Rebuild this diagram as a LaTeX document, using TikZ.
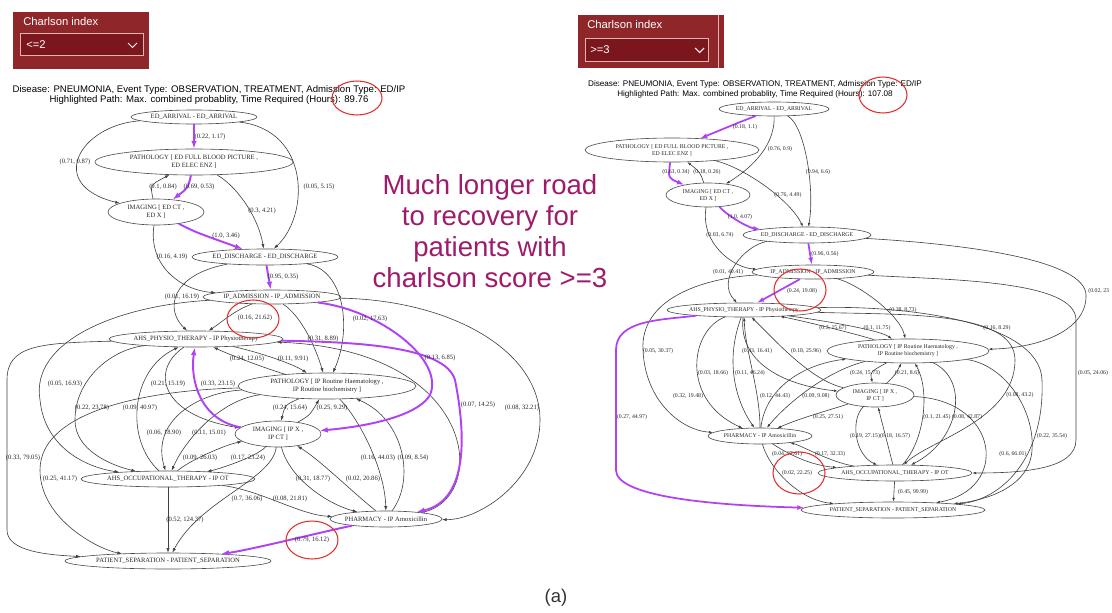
\documentclass[tikz,border=0pt]{standalone}
\usepackage{fontspec}
\setmainfont{Liberation Serif}
\setsansfont{Liberation Sans}
\usetikzlibrary{shapes.geometric,arrows.meta}
\definecolor{boxred}{RGB}{142,38,42}
\definecolor{dropred}{RGB}{122,22,28}
\definecolor{dropline}{RGB}{225,180,180}
\definecolor{hlpurple}{RGB}{176,66,245}
\definecolor{ringred}{RGB}{225,45,45}
\definecolor{msgcol}{RGB}{158,27,108}

\begin{document}
\begin{tikzpicture}[x=0.02cm,y=-0.02cm,>={Latex[length=2.6pt,width=1.8pt]}]
    \tikzstyle{ev}=[ellipse,draw=black!70,line width=0.35pt,inner sep=0pt]
    \tikzstyle{ltxt}=[font=\fontsize{3.75pt}{4.4pt}\selectfont,align=center,inner sep=0pt,text=black!85]
    \tikzstyle{rtxt}=[font=\fontsize{3.3pt}{3.9pt}\selectfont,align=center,inner sep=0pt,text=black!85]
    \tikzstyle{conn}=[->,draw=black!75,line width=0.35pt]
    \tikzstyle{connr}=[conn,>={Latex[length=2.2pt,width=1.5pt]}]
    \tikzstyle{hl}=[->,draw=hlpurple,line width=1.1pt,>={Latex[length=4.5pt,width=3.2pt]}]
    \tikzstyle{hlr}=[hl,line width=1pt,>={Latex[length=4pt,width=2.8pt]}]
    \tikzstyle{redring}=[draw=ringred,line width=0.6pt]
    \tikzstyle{ctxt}=[font=\sffamily\fontsize{6.4pt}{7pt}\selectfont,text=white,inner sep=0pt]
    \tikzstyle{head}=[font=\sffamily\fontsize{5.46pt}{5.7pt}\selectfont,align=center,inner sep=0pt]
    \tikzstyle{headr}=[font=\sffamily\fontsize{4.64pt}{5.7pt}\selectfont,align=center,inner sep=0pt]

    \useasboundingbox (0,0) rectangle (1112,612);

    \fill[boxred] (13,12) rectangle (149,69);
    \draw[dropline,fill=dropred,line width=0.5pt] (20,33) rectangle (143,55);
    \node (lBoxTitle)[ctxt,anchor=west] at (23,21) {Charlson index};
    \node (lBoxVal)[ctxt,anchor=west] at (26,45) {<=2};
    \draw[white,line width=0.6pt] (128,43) -- (132.5,47.5) -- (137,43);

    \fill[boxred] (578,15) rectangle (724,68);
    \draw[dropline,line width=0.3pt] (718,15) -- (718,68);
    \draw[dropline,fill=dropred,line width=0.5pt] (585,38) rectangle (708,61);
    \node (rBoxTitle)[ctxt,anchor=west] at (587,24) {Charlson index};
    \node (rBoxVal)[ctxt,anchor=west] at (590,50) {>=3};
    \draw[white,line width=0.6pt] (695,48) -- (699.5,52.5) -- (704,48);

    \node (lHead)[head] at (209,95) {Disease: PNEUMONIA, Event Type: OBSERVATION, TREATMENT, Admission Type: ED/IP\\Highlighted Path: Max. combined probablity, Time Required (Hours): 89.76};
    \node (rHead)[headr] at (755,89) {Disease: PNEUMONIA, Event Type: OBSERVATION, TREATMENT, Admission Type: ED/IP\\Highlighted Path: Max. combined probablity, Time Required (Hours): 107.08};

    \node (msg)[font=\sffamily\fontsize{15.7pt}{17.6pt}\selectfont,text=msgcol,align=center] at (490,231) {Much longer road\\to recovery for\\patients with\\charlson score >=3};
    \node (cap)[font=\sffamily\fontsize{10.5pt}{12pt}\selectfont,text=black!80] at (556,598) {(a)};

    % left graph, charlson <=2
    \node (lArr)[ev,minimum width=2.52cm,minimum height=0.28cm,label={[ltxt]center:{ED\_ARRIVAL - ED\_ARRIVAL}}] at (194,117) {};
    \node (lPathEd)[ev,minimum width=3.96cm,minimum height=0.52cm,label={[ltxt]center:{PATHOLOGY [ ED FULL BLOOD PICTURE ,\\ ED ELEC ENZ ]}}] at (194,162) {};
    \node (lImgEd)[ev,minimum width=1.92cm,minimum height=0.52cm,label={[ltxt]center:{IMAGING [ ED CT ,\\ ED X ]}}] at (156,212) {};
    \node (lDis)[ev,minimum width=2.92cm,minimum height=0.32cm,label={[ltxt]center:{ED\_DISCHARGE - ED\_DISCHARGE}}] at (265,257) {};
    \node (lAdm)[ev,minimum width=2.76cm,minimum height=0.28cm,label={[ltxt]center:{IP\_ADMISSION - IP\_ADMISSION}}] at (272,297) {};
    \node (lPhy)[ev,minimum width=3.48cm,minimum height=0.32cm,label={[ltxt]center:{AHS\_PHYSIO\_THERAPY - IP Physiotherapy}}] at (196,339) {};
    \node (lPathIp)[ev,minimum width=3.56cm,minimum height=0.52cm,label={[ltxt]center:{PATHOLOGY [ IP Routine Haematology ,\\ IP Routine biochemistry ]}}] at (327,386) {};
    \node (lImgIp)[ev,minimum width=1.72cm,minimum height=0.52cm,label={[ltxt]center:{IMAGING [ IP X ,\\ IP CT ]}}] at (278,434) {};
    \node (lOt)[ev,minimum width=3.48cm,minimum height=0.32cm,label={[ltxt]center:{AHS\_OCCUPATIONAL\_THERAPY - IP OT}}] at (168,479) {};
    \node (lPha)[ev,minimum width=2.24cm,minimum height=0.32cm,label={[ltxt]center:{PHARMACY - IP Amoxicillin}}] at (386,519) {};
    \node (lSep)[ev,minimum width=4.12cm,minimum height=0.32cm,label={[ltxt]center:{PATIENT\_SEPARATION - PATIENT\_SEPARATION}}] at (168,561) {};

    \draw[conn] (lArr) .. controls (80,125) and (45,185) .. (lImgEd);
    \draw[conn] (lArr) .. controls (310,130) and (310,215) .. (lDis);
    \draw[conn] (lImgEd) .. controls (150,185) .. (lPathEd);
    \draw[conn] (lPathEd) .. controls (235,185) and (258,215) .. (lDis);
    \draw[conn] (lImgEd) .. controls (148,265) and (180,290) .. (lAdm);
    \draw[conn] (lDis) .. controls (170,275) and (165,310) .. (lPhy);
    \draw[conn] (lDis) .. controls (345,270) and (352,330) .. (lPathIp);
    \draw[conn] (lAdm) .. controls (235,310) and (222,322) .. (lPhy);
    \draw[conn] (lAdm) .. controls (120,305) and (30,340) .. (40,400) .. controls (45,450) and (90,468) .. (lOt);
    \draw[conn] (lPhy) .. controls (40,343) and (7,345) .. (7,380) -- (7,530) .. controls (7,552) and (50,555) .. (lSep);
    \draw[conn] (lPhy) .. controls (110,350) and (75,380) .. (75,420) .. controls (75,450) and (110,465) .. (lOt);
    \draw[conn] (lOt) .. controls (125,440) and (130,370) .. (lPhy);
    \draw[conn] (lPhy) .. controls (150,370) and (160,415) .. (lImgIp);
    \draw[conn] (lPathIp) .. controls (270,370) and (230,355) .. (lPhy);
    \draw[conn] (lPhy) .. controls (250,350) and (290,362) .. (lPathIp);
    \draw[conn] (lAdm) .. controls (300,315) and (315,345) .. (lPathIp);
    \draw[conn] (lPathIp) .. controls (285,405) .. (lImgIp);
    \draw[conn] (lImgIp) .. controls (310,415) .. (lPathIp);
    \draw[conn] (lPathIp) .. controls (200,392) and (150,420) .. (lOt);
    \draw[conn] (lPathIp) .. controls (220,400) and (185,440) .. (lOt);
    \draw[conn] (lOt) .. controls (190,460) and (225,445) .. (lImgIp);
    \draw[conn] (lImgIp) .. controls (255,458) and (215,470) .. (lOt);
    \draw[conn] (lPathIp) .. controls (150,390) and (40,410) .. (40,470) .. controls (40,520) and (100,550) .. (lSep);
    \draw[conn] (lImgIp) .. controls (290,480) and (330,505) .. (lPha);
    \draw[conn] (lPha) .. controls (350,490) and (320,460) .. (lImgIp);
    \draw[conn] (lPathIp) .. controls (360,420) and (385,470) .. (lPha);
    \draw[conn] (lPha) .. controls (415,480) and (405,420) .. (lPathIp);
    \draw[conn] (lImgIp) .. controls (272,480) and (200,500) .. (lSep);
    \draw[conn] (lOt) .. controls (260,490) and (300,515) .. (lPha);
    \draw[conn] (lOt) -- (lSep);
    \draw[conn] (lAdm) .. controls (450,300) and (540,350) .. (540,420) .. controls (540,480) and (480,520) .. (lPha);
    \draw[conn] (lPha) .. controls (490,500) and (480,350) .. (lPhy);

    \draw[hl] (lArr) -- (lPathEd);
    \draw[hl] (lPathEd) .. controls (188,188) .. (lImgEd);
    \draw[hl] (lImgEd) .. controls (195,232) .. (lDis);
    \draw[hl] (lDis) -- (lAdm);
    \draw[hl] (lAdm) .. controls (380,310) and (445,360) .. (430,395) .. controls (415,420) and (350,428) .. (lImgIp);
    \draw[hl] (lImgIp) .. controls (200,420) and (190,380) .. (lPhy);
    \draw[hl] (lPhy) .. controls (350,342) and (445,345) .. (455,380) .. controls (465,430) and (470,500) .. (lPha);
    \draw[hl] (lPha) .. controls (330,530) and (250,550) .. (lSep);

    \foreach \x/\y/\t [count=\i] in {{210/137/(0.22, 1.17)},{75/162/(0.71, 0.87)},{319/187/(0.05, 5.15)},{163/187/(0.1, 0.84)},{199/187/(0.69, 0.53)},{262/211/(0.3, 4.21)},{226/236/(1.0, 3.46)},{172/257/(0.16, 4.19)},{283/277/(0.95, 0.35)},{182/297/(0.01, 16.19)},{255/318/(0.16, 21.62)},{370/319/(0.02, 17.63)},{323/339/(0.31, 8.89)},{247/359/(0.24, 12.05)},{293/359/(0.11, 9.91)},{440/358/(0.13, 6.85)},{65/384/(0.05, 16.93)},{168/384/(0.21, 15.19)},{218/384/(0.33, 23.15)},{92/408/(0.22, 23.78)},{140/408/(0.09, 40.97)},{290/408/(0.24, 15.64)},{332/408/(0.25, 9.29)},{164/433/(0.06, 18.90)},{209/433/(0.11, 15.01)},{23/458/(0.33, 79.05)},{200/458/(0.09, 26.03)},{248/458/(0.17, 23.24)},{378/458/(0.16, 44.03)},{413/458/(0.09, 8.54)},{60/479/(0.25, 41.17)},{313/479/(0.31, 18.77)},{363/479/(0.02, 20.86)},{247/499/(0.7, 36.06)},{290/499/(0.08, 21.81)},{185/520/(0.52, 124.37)},{312/540/(0.79, 16.12)},{478/405/(0.07, 14.25)},{522/408/(0.08, 32.21)}}
        \node (lw\i)[ltxt] at (\x,\y) {\t};

    % right graph, charlson >=3
    \node (rArr)[ev,minimum width=2.2cm,minimum height=0.28cm,label={[rtxt]center:{ED\_ARRIVAL - ED\_ARRIVAL}}] at (774,109) {};
    \node (rPathEd)[ev,minimum width=3.48cm,minimum height=0.48cm,label={[rtxt]center:{PATHOLOGY [ ED FULL BLOOD PICTURE ,\\ ED ELEC ENZ ]}}] at (672,150) {};
    \node (rImgEd)[ev,minimum width=1.68cm,minimum height=0.48cm,label={[rtxt]center:{IMAGING [ ED CT ,\\ ED X ]}}] at (708,195) {};
    \node (rDis)[ev,minimum width=2.56cm,minimum height=0.32cm,label={[rtxt]center:{ED\_DISCHARGE - ED\_DISCHARGE}}] at (807,235) {};
    \node (rAdm)[ev,minimum width=2.44cm,minimum height=0.28cm,label={[rtxt]center:{IP\_ADMISSION - IP\_ADMISSION}}] at (813,272) {};
    \node (rPhy)[ev,minimum width=3.08cm,minimum height=0.28cm,label={[rtxt]center:{AHS\_PHYSIO\_THERAPY - IP Physiotherapy}}] at (744,310) {};
    \node (rPathIp)[ev,minimum width=3.24cm,minimum height=0.48cm,label={[rtxt]center:{PATHOLOGY [ IP Routine Haematology ,\\ IP Routine biochemistry ]}}] at (908,351) {};
    \node (rImgIp)[ev,minimum width=1.56cm,minimum height=0.48cm,label={[rtxt]center:{IMAGING [ IP X ,\\ IP CT ]}}] at (875,395) {};
    \node (rPha)[ev,minimum width=2.08cm,minimum height=0.32cm,label={[rtxt]center:{PHARMACY - IP Amoxicillin}}] at (760,436) {};
    \node (rOt)[ev,minimum width=3.08cm,minimum height=0.32cm,label={[rtxt]center:{AHS\_OCCUPATIONAL\_THERAPY - IP OT}}] at (895,473) {};
    \node (rSep)[ev,minimum width=3.68cm,minimum height=0.32cm,label={[rtxt]center:{PATIENT\_SEPARATION - PATIENT\_SEPARATION}}] at (893,510) {};

    \draw[connr] (rArr) .. controls (775,150) and (745,172) .. (rImgEd);
    \draw[connr] (rArr) .. controls (805,125) and (815,190) .. (rDis);
    \draw[connr] (rImgEd) .. controls (700,172) .. (rPathEd);
    \draw[connr] (rPathEd) .. controls (745,168) and (790,200) .. (rDis);
    \draw[connr] (rImgEd) .. controls (700,245) and (735,268) .. (rAdm);
    \draw[connr] (rDis) .. controls (745,245) and (715,280) .. (rPhy);
    \draw[connr] (rDis) .. controls (980,245) and (1085,262) .. (1086,295) .. controls (1087,330) and (1040,348) .. (rPathIp);
    \draw[connr] (rAdm) .. controls (860,285) and (900,315) .. (rPathIp);
    \draw[connr] (rAdm) .. controls (950,280) and (1076,280) .. (1076,320) -- (1076,440) .. controls (1076,470) and (1020,473) .. (rOt);
    \draw[connr] (rAdm) .. controls (700,278) and (640,300) .. (643,350) .. controls (645,400) and (680,430) .. (rPha);
    \draw[connr] (rPathIp) .. controls (860,335) and (800,320) .. (rPhy);
    \draw[connr] (rPhy) .. controls (820,320) and (880,330) .. (rPathIp);
    \draw[connr] (rPhy) .. controls (738,360) and (780,385) .. (rImgIp);
    \draw[connr] (rImgIp) .. controls (810,380) and (775,340) .. (rPhy);
    \draw[connr] (rPhy) .. controls (900,315) and (1015,310) .. (1015,360) .. controls (1015,420) and (930,440) .. (rOt);
    \draw[connr] (rPhy) .. controls (900,305) and (1040,320) .. (1042,380) .. controls (1045,460) and (1000,500) .. (rSep);
    \draw[connr] (rPhy) .. controls (690,330) and (680,400) .. (rPha);
    \draw[connr] (rPhy) .. controls (725,360) and (735,400) .. (rPha);
    \draw[connr] (rPha) .. controls (760,390) and (745,350) .. (rPhy);
    \draw[connr] (rPathIp) .. controls (870,372) .. (rImgIp);
    \draw[connr] (rImgIp) .. controls (895,375) .. (rPathIp);
    \draw[connr] (rPha) .. controls (765,390) and (800,365) .. (rPathIp);
    \draw[connr] (rPathIp) .. controls (830,370) and (790,400) .. (rPha);
    \draw[connr] (rImgIp) .. controls (830,410) and (800,418) .. (rPha);
    \draw[connr] (rImgIp) .. controls (850,420) and (855,455) .. (rOt);
    \draw[connr] (rOt) -- (rImgIp);
    \draw[connr] (rOt) .. controls (925,440) and (930,390) .. (rPathIp);
    \draw[connr] (rPathIp) .. controls (970,380) and (960,440) .. (rOt);
    \draw[connr] (rPathIp) .. controls (1005,365) and (1035,410) .. (1032,450) .. controls (1030,485) and (990,500) .. (rSep);
    \draw[connr] (rImgIp) .. controls (1000,400) and (1010,490) .. (rSep);
    \draw[connr] (rPha) .. controls (790,455) and (810,465) .. (rOt);
    \draw[connr] (rOt) .. controls (830,462) and (800,445) .. (rPha);
    \draw[connr] (rPha) .. controls (770,470) and (800,500) .. (rSep);
    \draw[connr] (rOt) -- (rSep);

    \draw[hlr] (rArr) .. controls (740,122) .. (rPathEd);
    \draw[hlr] (rPathEd) .. controls (668,178) .. (rImgEd);
    \draw[hlr] (rImgEd) .. controls (730,218) and (750,228) .. (rDis);
    \draw[hlr] (rDis) -- (rAdm);
    \draw[hlr] (rAdm) -- (rPhy);
    \draw[hlr] (rPhy) .. controls (660,320) and (616,320) .. (616,350) -- (616,470) .. controls (616,495) and (700,505) .. (rSep);

    \foreach \x/\y/\t [count=\i] in {{745/127/(0.18, 1.1)},{780/149/(0.76, 0.9)},{818/172/(0.94, 6.6)},{676/172/(0.63, 0.34)},{707/172/(0.18, 0.26)},{788/195/(0.76, 4.49)},{740/217/(1.0, 4.07)},{720/235/(0.03, 6.74)},{825/254/(0.96, 0.56)},{728/272/(0.01, 40.41)},{802/291/(0.24, 19.08)},{903/310/(0.38, 8.73)},{833/328/(0.3, 15.67)},{877/328/(0.1, 11.75)},{997/328/(0.16, 8.29)},{658/351/(0.05, 30.37)},{757/351/(0.43, 16.41)},{806/351/(0.18, 25.96)},{713/373/(0.03, 18.66)},{750/373/(0.11, 46.24)},{865/373/(0.24, 15.73)},{907/373/(0.21, 8.6)},{1093/373/(0.05, 24.06)},{688/396/(0.32, 19.48)},{775/396/(0.12, 44.43)},{816/396/(0.09, 9.08)},{1020/395/(0.08, 43.2)},{632/417/(0.27, 44.97)},{828/417/(0.25, 27.51)},{937/417/(0.1, 21.45)},{967/417/(0.08, 42.87)},{865/436/(0.19, 27.15)},{895/436/(0.18, 16.57)},{1052/436/(0.22, 35.54)},{787/454/(0.04, 27.61)},{830/454/(0.17, 32.33)},{1013/454/(0.6, 66.01)},{797/473/(0.02, 22.25)},{913/492/(0.45, 99.99)}}
        \node (rw\i)[rtxt] at (\x,\y) {\t};
    \node (rwCut)[rtxt,anchor=west] at (1088,291) {(0.02, 23};

    \draw[redring] (357,98) ellipse [x radius=0.5cm,y radius=0.34cm];
    \draw[redring] (253,319) ellipse [x radius=0.52cm,y radius=0.38cm];
    \draw[redring] (312,540) ellipse [x radius=0.52cm,y radius=0.38cm];
    \draw[redring] (883,95) ellipse [x radius=0.48cm,y radius=0.36cm];
    \draw[redring] (800,290) ellipse [x radius=0.52cm,y radius=0.42cm];
    \draw[redring] (799,473) ellipse [x radius=0.52cm,y radius=0.42cm];
\end{tikzpicture}
\end{document}
